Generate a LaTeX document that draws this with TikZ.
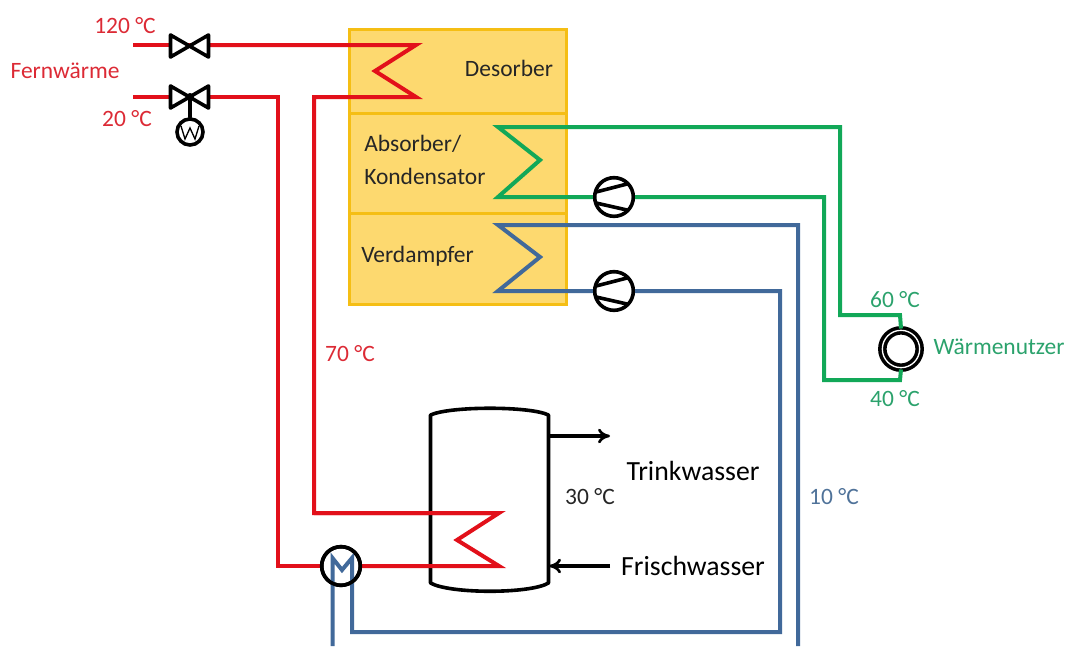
\documentclass[tikz,border=0pt]{standalone}
\usepackage{fontspec}
\setmainfont{Carlito}
\usetikzlibrary{arrows.meta}
\definecolor{pred}{HTML}{E2101A}
\definecolor{pgreen}{HTML}{12A858}
\definecolor{pblue}{HTML}{41699A}
\definecolor{lred}{HTML}{DC2A35}
\definecolor{lgreen}{HTML}{2BA26C}
\definecolor{lblue}{HTML}{4F7299}
\definecolor{boxfill}{HTML}{FDD96F}
\definecolor{boxline}{HTML}{F5BE14}
\tikzset{
  stage/.style={draw=boxline,fill=boxfill,line width=2.4pt,minimum width=162.5pt,inner sep=0pt,anchor=north west},
  redpipe/.style={draw=pred,line width=3pt,line join=miter},
  greenpipe/.style={draw=pgreen,line width=3pt,line join=miter},
  bluepipe/.style={draw=pblue,line width=3pt,line join=miter},
  sym/.style={draw=black,line width=2.7pt,line join=round,line cap=round},
  ring/.style={circle,draw=black,line width=2.7pt,fill=white,inner sep=0pt},
  lab/.style={font=\fontsize{17.6}{21}\selectfont,inner sep=0pt},
  bigl/.style={font=\fontsize{20.8}{25}\selectfont,inner sep=0pt},
  flow/.style={draw=black,line width=2.7pt,-{To[length=9pt,width=11pt,line width=2pt]}}
}
\begin{document}
\begin{tikzpicture}[x=0.75pt,y=-0.75pt]
\useasboundingbox (0,0) rectangle (1073,646);
% vessel stages
\node[stage,minimum height=63pt] (des) at (348,28) {};
\node[stage,minimum height=75pt] (abs) at (348,112) {};
\node[stage,minimum height=68.2pt] (ver) at (348,212) {};
% named points
\coordinate (fa) at (133,45);
\coordinate (fb) at (133,97);
\coordinate (v1) at (190,45);
\coordinate (v2) at (190,97);
\node[ring,minimum size=29pt] (hx) at (341,566) {};
\node[ring,minimum size=29pt] (p1) at (614,197) {};
\node[ring,minimum size=29pt] (p2) at (614,291) {};
\node[ring,minimum size=19.5pt] (mot) at (190,132) {};
\node[circle,draw=black,line width=2.7pt,fill=white,minimum size=28pt,inner sep=0pt,double=white,double distance=1pt] (use) at (901,349) {};
% red circuit
\draw[redpipe] (fa) -- (v1);
\draw[redpipe] (fb) -- (v2);
\draw[redpipe] (v1) -- (416,45) -- (375,71) -- (416,97) -- (314,97) -- (314,513) -- (499,513);
\draw[redpipe] (hx.west) -- (278,566) -- (278,97) -- (v2);
% tank
\draw[sym] (430.5,415) .. controls (450,406) and (530,406) .. (548.5,415) -- (548.5,583) .. controls (530,594) and (450,594) .. (430.5,583) -- cycle;
\draw[redpipe] (314,513) -- (499,513) -- (457,540) -- (499,566) -- (hx.east);
% green circuit
\draw[greenpipe] (use.north) -- (900,315) -- (840,315) -- (840,127) -- (498,127) -- (540,160) -- (498,197) -- (p1.west);
\draw[greenpipe] (p1.east) -- (824,197) -- (824,380) -- (900,380) -- (use.south);
% blue circuit
\draw[bluepipe] (798,646) -- (798,225) -- (498,225) -- (540,257) -- (498,291) -- (p2.west);
\draw[bluepipe] (p2.east) -- (780,291) -- (780,632) -- (352,632) -- (352,558) -- (342,570) -- (332.5,558) -- (332.5,646);
\node[circle,draw=black,line width=2.7pt,minimum size=29pt,inner sep=0pt] at (hx) {};
% valves
\draw[sym,fill=white] (170.5,35) -- (170.5,57) -- (208.5,35) -- (208.5,57) -- cycle;
\draw[sym,fill=white] (170.5,86) -- (170.5,108) -- (208.5,86) -- (208.5,108) -- cycle;
\fill (v2) circle (4);
\draw[sym] (v2) -- (mot.north);
\draw[line width=1pt] (181,126) -- (185,139) -- (190,128) -- (195,139) -- (199,126);
% pump symbols
\draw[sym] (596,192) -- (627,184);
\draw[sym] (596,203) -- (627,210);
\draw[sym] (596,286) -- (627,278);
\draw[sym] (596,297) -- (627,304);
% flows
\coordinate (tout) at (610,436);
\coordinate (tin) at (610,566);
\draw[flow] (549,436) -- (tout);
\draw[flow] (tin) -- (549,566);
% labels
\node[lab,text=lred] (t120) at (125,26) {120 °C};
\node[lab,text=lred] (tfw) at (65,71) {Fernwärme};
\node[lab,text=lred] (t20) at (127,119) {20 °C};
\node[lab,text=lred] (t70) at (350,354) {70 °C};
\node[lab,text=black!85] (ldes) at (509,68) {Desorber};
\node[lab,text=black!85,anchor=west] (labs) at (364,144) {Absorber/};
\node[lab,text=black!85,anchor=west] (lkon) at (364,176) {Kondensator};
\node[lab,text=black!85,anchor=west] (lver) at (361,256) {Verdampfer};
\node[lab,text=lgreen] (t60) at (895,300) {60 °C};
\node[lab,text=lgreen] (t40) at (895,399) {40 °C};
\node[lab,text=lgreen] (lwn) at (999,347) {Wärmenutzer};
\node[lab,text=black!85] (t30) at (590,497) {30 °C};
\node[lab,text=lblue] (t10) at (834,497) {10 °C};
\node[bigl] (ltw) at (693,471) {Trinkwasser};
\node[bigl] (lfw) at (693,566) {Frischwasser};
\end{tikzpicture}
\end{document}
